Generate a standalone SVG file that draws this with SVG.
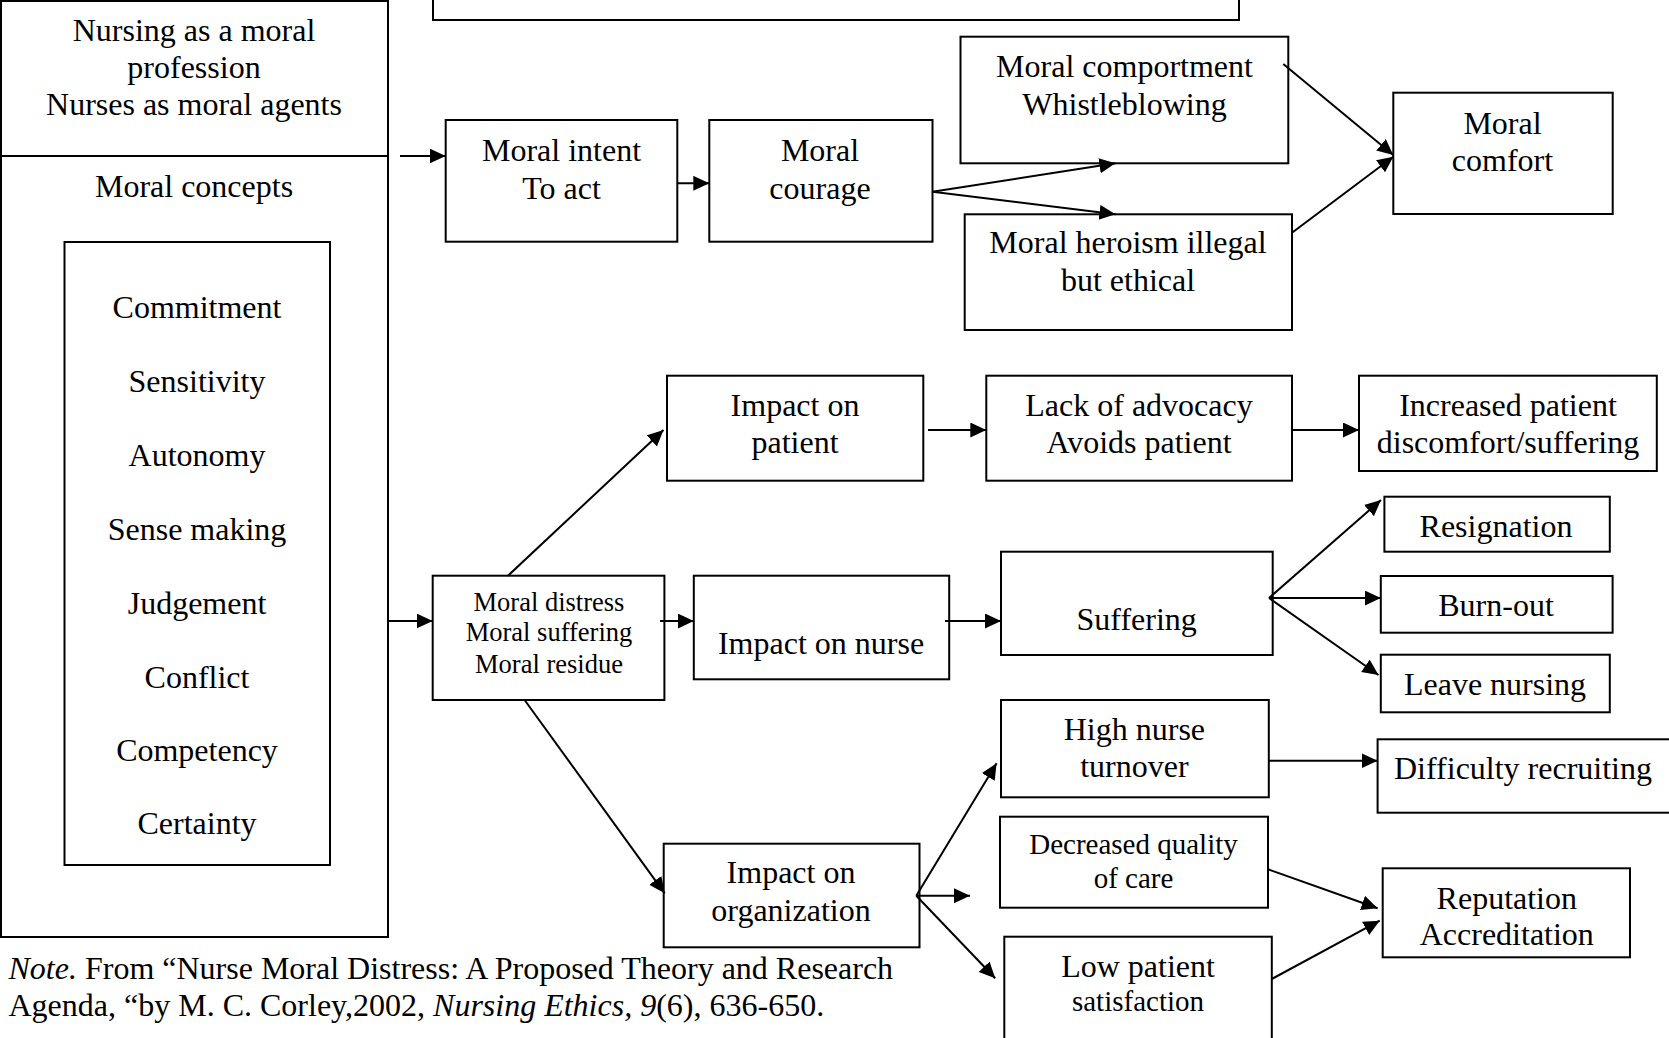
<svg xmlns="http://www.w3.org/2000/svg" width="1669" height="1038" viewBox="0 0 1669 1038">
<defs>
<style>
.b{fill:#fff;stroke:#000;stroke-width:2}
.t{font-family:"Liberation Serif","Times New Roman",serif;font-size:32px;fill:#000;text-anchor:middle}
.s{font-size:26.5px}
.m{font-size:29px}
.c line{stroke:#000;stroke-width:2;marker-end:url(#ah)}
.n{font-family:"Liberation Serif","Times New Roman",serif;font-size:32px;fill:#000}
</style>
<marker id="ah" markerUnits="userSpaceOnUse" markerWidth="17" markerHeight="16" refX="16" refY="7.5" orient="auto" viewBox="0 0 17 16">
<path d="M0,0 L16,7.5 L0,15 z" fill="#000"/>
</marker>
</defs>
<rect width="1669" height="1038" fill="#fff"/>

<g id="top-box"><rect class="b" x="433" y="-10" width="806" height="30"/></g>

<g id="left-panel">
<rect class="b" x="1" y="1" width="387" height="936"/>
<line x1="1" y1="156" x2="388" y2="156" stroke="#000" stroke-width="2"/>
<text class="t" x="194" y="41">Nursing as a moral</text>
<text class="t" x="194" y="78">profession</text>
<text class="t" x="194" y="115">Nurses as moral agents</text>
<text class="t" x="194" y="197">Moral concepts</text>
</g>

<g id="concepts">
<rect class="b" x="64.5" y="242" width="265.5" height="623"/>
<text class="t" x="197" y="318">Commitment</text>
<text class="t" x="197" y="392">Sensitivity</text>
<text class="t" x="197" y="466">Autonomy</text>
<text class="t" x="197" y="540">Sense making</text>
<text class="t" x="197" y="614">Judgement</text>
<text class="t" x="197" y="688">Conflict</text>
<text class="t" x="197" y="761">Competency</text>
<text class="t" x="197" y="834">Certainty</text>
</g>

<g id="moral-intent"><rect class="b" x="445.7" y="120" width="231.6" height="121.7"/>
<text class="t" x="561.5" y="161">Moral intent</text><text class="t" x="561.5" y="199">To act</text></g>

<g id="moral-courage"><rect class="b" x="709.3" y="120" width="223.2" height="121.7"/>
<text class="t" x="820" y="161">Moral</text><text class="t" x="820" y="199">courage</text></g>

<g id="moral-comportment"><rect class="b" x="960.5" y="36.7" width="327.8" height="126.6"/>
<text class="t" x="1124.5" y="77">Moral comportment</text><text class="t" x="1124.5" y="114.5">Whistleblowing</text></g>

<g id="moral-heroism"><rect class="b" x="964.7" y="214.3" width="327.3" height="115.7"/>
<text class="t" x="1128" y="253">Moral heroism illegal</text><text class="t" x="1128" y="291">but ethical</text></g>

<g id="moral-comfort"><rect class="b" x="1393.3" y="92.7" width="219.4" height="121.3"/>
<text class="t" x="1502.5" y="133.5">Moral</text><text class="t" x="1502.5" y="171">comfort</text></g>

<g id="moral-distress"><rect class="b" x="432.7" y="575.7" width="231.7" height="124.3"/>
<text class="t s" x="549" y="611">Moral distress</text><text class="t s" x="549" y="641">Moral suffering</text><text class="t s" x="549" y="672.5">Moral residue</text></g>

<g id="impact-patient"><rect class="b" x="667" y="375.7" width="256.3" height="105"/>
<text class="t" x="795" y="416">Impact on</text><text class="t" x="795" y="453">patient</text></g>

<g id="impact-nurse"><rect class="b" x="693.8" y="575.7" width="255.4" height="103.6"/>
<text class="t" x="821" y="653.5">Impact on nurse</text></g>

<g id="impact-organization"><rect class="b" x="663.7" y="843.7" width="255.8" height="103.6"/>
<text class="t" x="791" y="883">Impact on</text><text class="t" x="791" y="921">organization</text></g>

<g id="lack-advocacy"><rect class="b" x="986.3" y="375.7" width="305.7" height="105"/>
<text class="t" x="1139" y="416">Lack of advocacy</text><text class="t" x="1139" y="453">Avoids patient</text></g>

<g id="increased-discomfort"><rect class="b" x="1359" y="375.7" width="297.8" height="95.3"/>
<text class="t" x="1508" y="416">Increased patient</text><text class="t" x="1508" y="453" font-size="31.5">discomfort/suffering</text></g>

<g id="suffering"><rect class="b" x="1001" y="551.7" width="271.7" height="103.3"/>
<text class="t" x="1136.7" y="630">Suffering</text></g>

<g id="resignation"><rect class="b" x="1384.4" y="496.7" width="225.4" height="55"/>
<text class="t" x="1496" y="537">Resignation</text></g>

<g id="burn-out"><rect class="b" x="1380.8" y="576" width="231.8" height="56.7"/>
<text class="t" x="1496" y="615.5">Burn-out</text></g>

<g id="leave-nursing"><rect class="b" x="1380.8" y="654.7" width="229" height="57.6"/>
<text class="t" x="1495" y="695">Leave nursing</text></g>

<g id="high-turnover"><rect class="b" x="1001" y="700" width="267.8" height="97.3"/>
<text class="t" x="1134.4" y="740">High nurse</text><text class="t" x="1134.4" y="777">turnover</text></g>

<g id="difficulty-recruiting"><rect class="b" x="1377.6" y="739.3" width="300" height="73.4"/>
<text class="t" x="1523" y="779" font-size="29.3">Difficulty recruiting</text></g>

<g id="decreased-quality"><rect class="b" x="1000" y="816.7" width="268" height="91"/>
<text class="t m" x="1133.5" y="854">Decreased quality</text><text class="t m" x="1133.5" y="887.5">of care</text></g>

<g id="low-satisfaction"><rect class="b" x="1004.3" y="936.7" width="267.5" height="110"/>
<text class="t" x="1138" y="977">Low patient</text><text class="t m" x="1138" y="1010.5">satisfaction</text></g>

<g id="reputation"><rect class="b" x="1382.7" y="868.3" width="247.3" height="89"/>
<text class="t" x="1506.8" y="908.5">Reputation</text><text class="t" x="1506.8" y="945">Accreditation</text></g>

<g id="connectors" class="c">
<line x1="400" y1="156" x2="445.7" y2="156"/>
<line x1="677.3" y1="183.3" x2="709.3" y2="183.3"/>
<line x1="932.5" y1="191.7" x2="1115.4" y2="163.3"/>
<line x1="932.5" y1="191.7" x2="1115.4" y2="214.3"/>
<line x1="1283.3" y1="64" x2="1393.3" y2="155"/>
<line x1="1292" y1="232.7" x2="1393.3" y2="156.7"/>
<line x1="388" y1="621" x2="432.7" y2="621"/>
<line x1="508" y1="575.7" x2="663.5" y2="430"/>
<line x1="660" y1="621" x2="693.8" y2="621"/>
<line x1="524.6" y1="700" x2="664.7" y2="893.3"/>
<line x1="928" y1="430" x2="986.3" y2="430"/>
<line x1="1292" y1="430" x2="1359" y2="430"/>
<line x1="945" y1="621" x2="1001" y2="621"/>
<line x1="1269" y1="598" x2="1381" y2="500"/>
<line x1="1269" y1="598" x2="1380.8" y2="598"/>
<line x1="1269" y1="598" x2="1378.5" y2="675"/>
<line x1="916.3" y1="895.7" x2="996.6" y2="763.3"/>
<line x1="916.3" y1="895.7" x2="970" y2="895.7"/>
<line x1="916.3" y1="895.7" x2="995.2" y2="978.3"/>
<line x1="1268.8" y1="760.7" x2="1377.6" y2="760.7"/>
<line x1="1268" y1="869.3" x2="1377.6" y2="908.3"/>
<line x1="1271.8" y1="979" x2="1379.7" y2="920.7"/>
</g>

<g id="note">
<text class="n" x="8.5" y="978.5"><tspan font-style="italic">Note.</tspan> From “Nurse Moral Distress: A Proposed Theory and Research</text>
<text class="n" x="8.5" y="1016">Agenda, “by M. C. Corley,2002, <tspan font-style="italic">Nursing Ethics, 9</tspan>(6), 636-650.</text>
</g>
</svg>
